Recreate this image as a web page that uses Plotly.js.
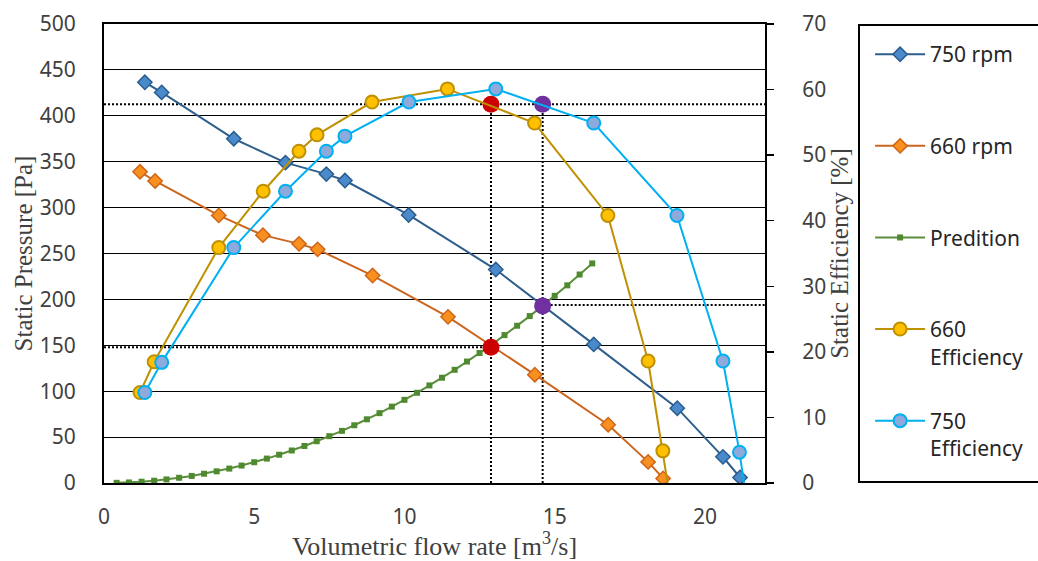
<!DOCTYPE html>
<html>
<head>
<meta charset="utf-8">
<script src="https://cdn.plot.ly/plotly-3.0.1.min.js"></script>
<style>html,body{margin:0;padding:0;background:#fff;}#chart{width:1038px;height:561px;}</style>
</head>
<body>
<div id="chart"></div>
<script>
// ---- data ----
const flow750 = [1.36, 1.92, 4.32, 6.04, 7.40, 8.02, 10.14, 13.04, 16.30, 19.08, 20.60, 21.17];
const pressure750 = [436.5, 425.5, 375, 349, 336.5, 329.5, 292, 232.5, 151, 81.5, 28.5, 6];

const flow660 = [1.20, 1.70, 3.82, 5.29, 6.49, 7.11, 8.94, 11.45, 14.34, 16.78, 18.11, 18.61];
const pressure660 = [339, 329, 291.5, 270, 260.5, 254.5, 226, 181, 118, 63.5, 23, 5];

const predFlow = [0.42, 0.83, 1.25, 1.67, 2.08, 2.50, 2.92, 3.33, 3.75, 4.17, 4.58, 5.00, 5.42,
  5.83, 6.25, 6.67, 7.08, 7.50, 7.92, 8.33, 8.75, 9.17, 9.58, 10.00, 10.42, 10.83, 11.25,
  11.67, 12.08, 12.50, 12.92, 13.33, 13.75, 14.17, 14.58, 15.00, 15.42, 15.83, 16.25];
const predPressure = [0.2, 0.6, 1.4, 2.5, 3.9, 5.7, 7.7, 10.1, 12.7, 15.7, 19.0, 22.6, 26.6,
  30.8, 35.4, 40.3, 45.5, 51.0, 56.8, 62.9, 69.4, 76.1, 83.2, 90.6, 98.3, 106.3, 114.7,
  123.3, 132.3, 141.6, 151.2, 161.1, 171.3, 181.8, 192.7, 203.9, 215.3, 227.1, 239.2];

const effFlow660 = [1.20, 1.67, 3.82, 5.30, 6.49, 7.09, 8.92, 11.43, 14.33, 16.77, 18.11, 18.60, 18.81];
const eff660 = [13.8, 18.5, 35.9, 44.5, 50.6, 53.1, 58.1, 60.1, 54.9, 40.8, 18.6, 4.9, -1.5];

const effFlow750 = [1.36, 1.92, 4.32, 6.04, 7.40, 8.02, 10.15, 13.04, 16.30, 19.07, 20.60, 21.15, 21.35];
const eff750 = [13.8, 18.4, 35.9, 44.5, 50.6, 52.9, 58.1, 60.1, 54.9, 40.8, 18.6, 4.7, -1.5];

const guideX = [0, 22, null, 0, 12.88, null, 12.88, 12.88, null, 14.6, 14.6, null, 14.6, 22];
const guideY = [412.5, 412.5, null, 148, 148, null, 0, 412.5, null, 0, 412.5, null, 194, 194];

const opRedX = [12.88, 12.88];
const opRedY = [148, 412.5];
const opPurpleX = [14.6, 14.6];
const opPurpleY = [192.8, 412.5];

const seriesNames = ['750 rpm', '660 rpm', 'Predition', '660<br>Efficiency', '750<br>Efficiency'];
const xTicks = [0, 5, 10, 15, 20];

// ---- traces ----
const traces = [
  {x: guideX, y: guideY, type: 'scatter', mode: 'lines', showlegend: false, hoverinfo: 'skip',
   line: {color: '#000', width: 2, dash: '2px,2px'}},
  {x: flow750, y: pressure750, name: seriesNames[0] + '<br>\u00a0', legendgroup: 'g1', type: 'scatter', mode: 'lines+markers',
   line: {color: '#2E5E8C', width: 2},
   marker: {symbol: 'diamond', size: 11, color: '#4A8ACB', line: {color: '#2B5D8F', width: 1.5}}},
  {x: flow660, y: pressure660, name: seriesNames[1] + '<br>\u00a0', legendgroup: 'g2', type: 'scatter', mode: 'lines+markers',
   line: {color: '#CC661F', width: 2},
   marker: {symbol: 'diamond', size: 11, color: '#F7901E', line: {color: '#D0651A', width: 1.5}}},
  {x: predFlow, y: predPressure, name: seriesNames[2] + '<br>\u00a0', legendgroup: 'g3', type: 'scatter', mode: 'lines+markers',
   line: {color: '#5B8E3C', width: 2},
   marker: {symbol: 'square', size: 6, color: '#4F8A30', line: {width: 0}}},
  {x: effFlow660, y: eff660, name: seriesNames[3], legendgroup: 'g4', yaxis: 'y2', type: 'scatter', mode: 'lines+markers',
   line: {color: '#BF9000', width: 2},
   marker: {symbol: 'circle', size: 13, color: '#FFC000', line: {color: '#BF9000', width: 2}}},
  {x: effFlow750, y: eff750, name: seriesNames[4], legendgroup: 'g5', yaxis: 'y2', type: 'scatter', mode: 'lines+markers',
   line: {color: '#00B0F0', width: 2},
   marker: {symbol: 'circle', size: 13, color: '#8EA9DB', line: {color: '#00B0F0', width: 2}}},
  {x: opRedX, y: opRedY, type: 'scatter', mode: 'markers', showlegend: false, hoverinfo: 'skip',
   marker: {symbol: 'circle', size: 17, color: '#CC0000'}},
  {x: opPurpleX, y: opPurpleY, type: 'scatter', mode: 'markers', showlegend: false, hoverinfo: 'skip',
   marker: {symbol: 'circle', size: 17, color: '#7030A0'}}
];

const tickFont = {family: 'Noto Sans', size: 21, color: '#404040'};
const titleFont = {family: 'Liberation Serif', size: 25, color: '#404040'};

const layout = {
  width: 1038, height: 561,
  margin: {l: 104, r: 273, t: 24, b: 78, autoexpand: false},
  paper_bgcolor: '#fff', plot_bgcolor: '#fff',
  showlegend: true,
  xaxis: {
    range: [0, 22], tickvals: xTicks, ticks: '', showgrid: false, zeroline: false,
    showline: true, linecolor: '#000', linewidth: 2, mirror: true,
    tickfont: tickFont, ticklabelstandoff: 14,
    title: {text: 'Volumetric flow rate [m<sup>3</sup>/s]', font: {family: 'Liberation Serif', size: 26, color: '#404040'}, standoff: 2}
  },
  yaxis: {
    range: [0, 500], dtick: 50, ticks: '', showgrid: true, gridcolor: '#000', gridwidth: 1,
    zeroline: false, showline: true, linecolor: '#000', linewidth: 2,
    tickfont: tickFont, ticklabelstandoff: 22,
    title: {text: 'Static Pressure [Pa]', font: titleFont, standoff: 0}
  },
  yaxis2: {
    overlaying: 'y', side: 'right', range: [0, 70], dtick: 10,
    ticks: 'outside', ticklen: 7, tickwidth: 1.5, tickcolor: '#000',
    showgrid: false, zeroline: false, showline: true, linecolor: '#000', linewidth: 2,
    tickfont: tickFont, ticklabelstandoff: 24,
    title: {text: 'Static Efficiency [%]', font: titleFont, standoff: 3}
  },
  legend: {
    x: 1.159, xanchor: 'left', y: 0.978, yanchor: 'top',
    font: {family: 'Noto Sans', size: 21, color: '#262626'},
    traceorder: 'grouped', tracegroupgap: 34, valign: 'top',
    itemwidth: 50, bgcolor: 'rgba(0,0,0,0)', borderwidth: 0
  },
  shapes: [
    {type: 'rect', xref: 'paper', yref: 'paper', x0: 1.1422, x1: 1.42, y0: 0.002, y1: 0.998,
     line: {color: '#000', width: 2}, fillcolor: 'rgba(0,0,0,0)'}
  ]
};

Plotly.newPlot('chart', traces, layout, {displayModeBar: false, staticPlot: true});
</script>
</body>
</html>
